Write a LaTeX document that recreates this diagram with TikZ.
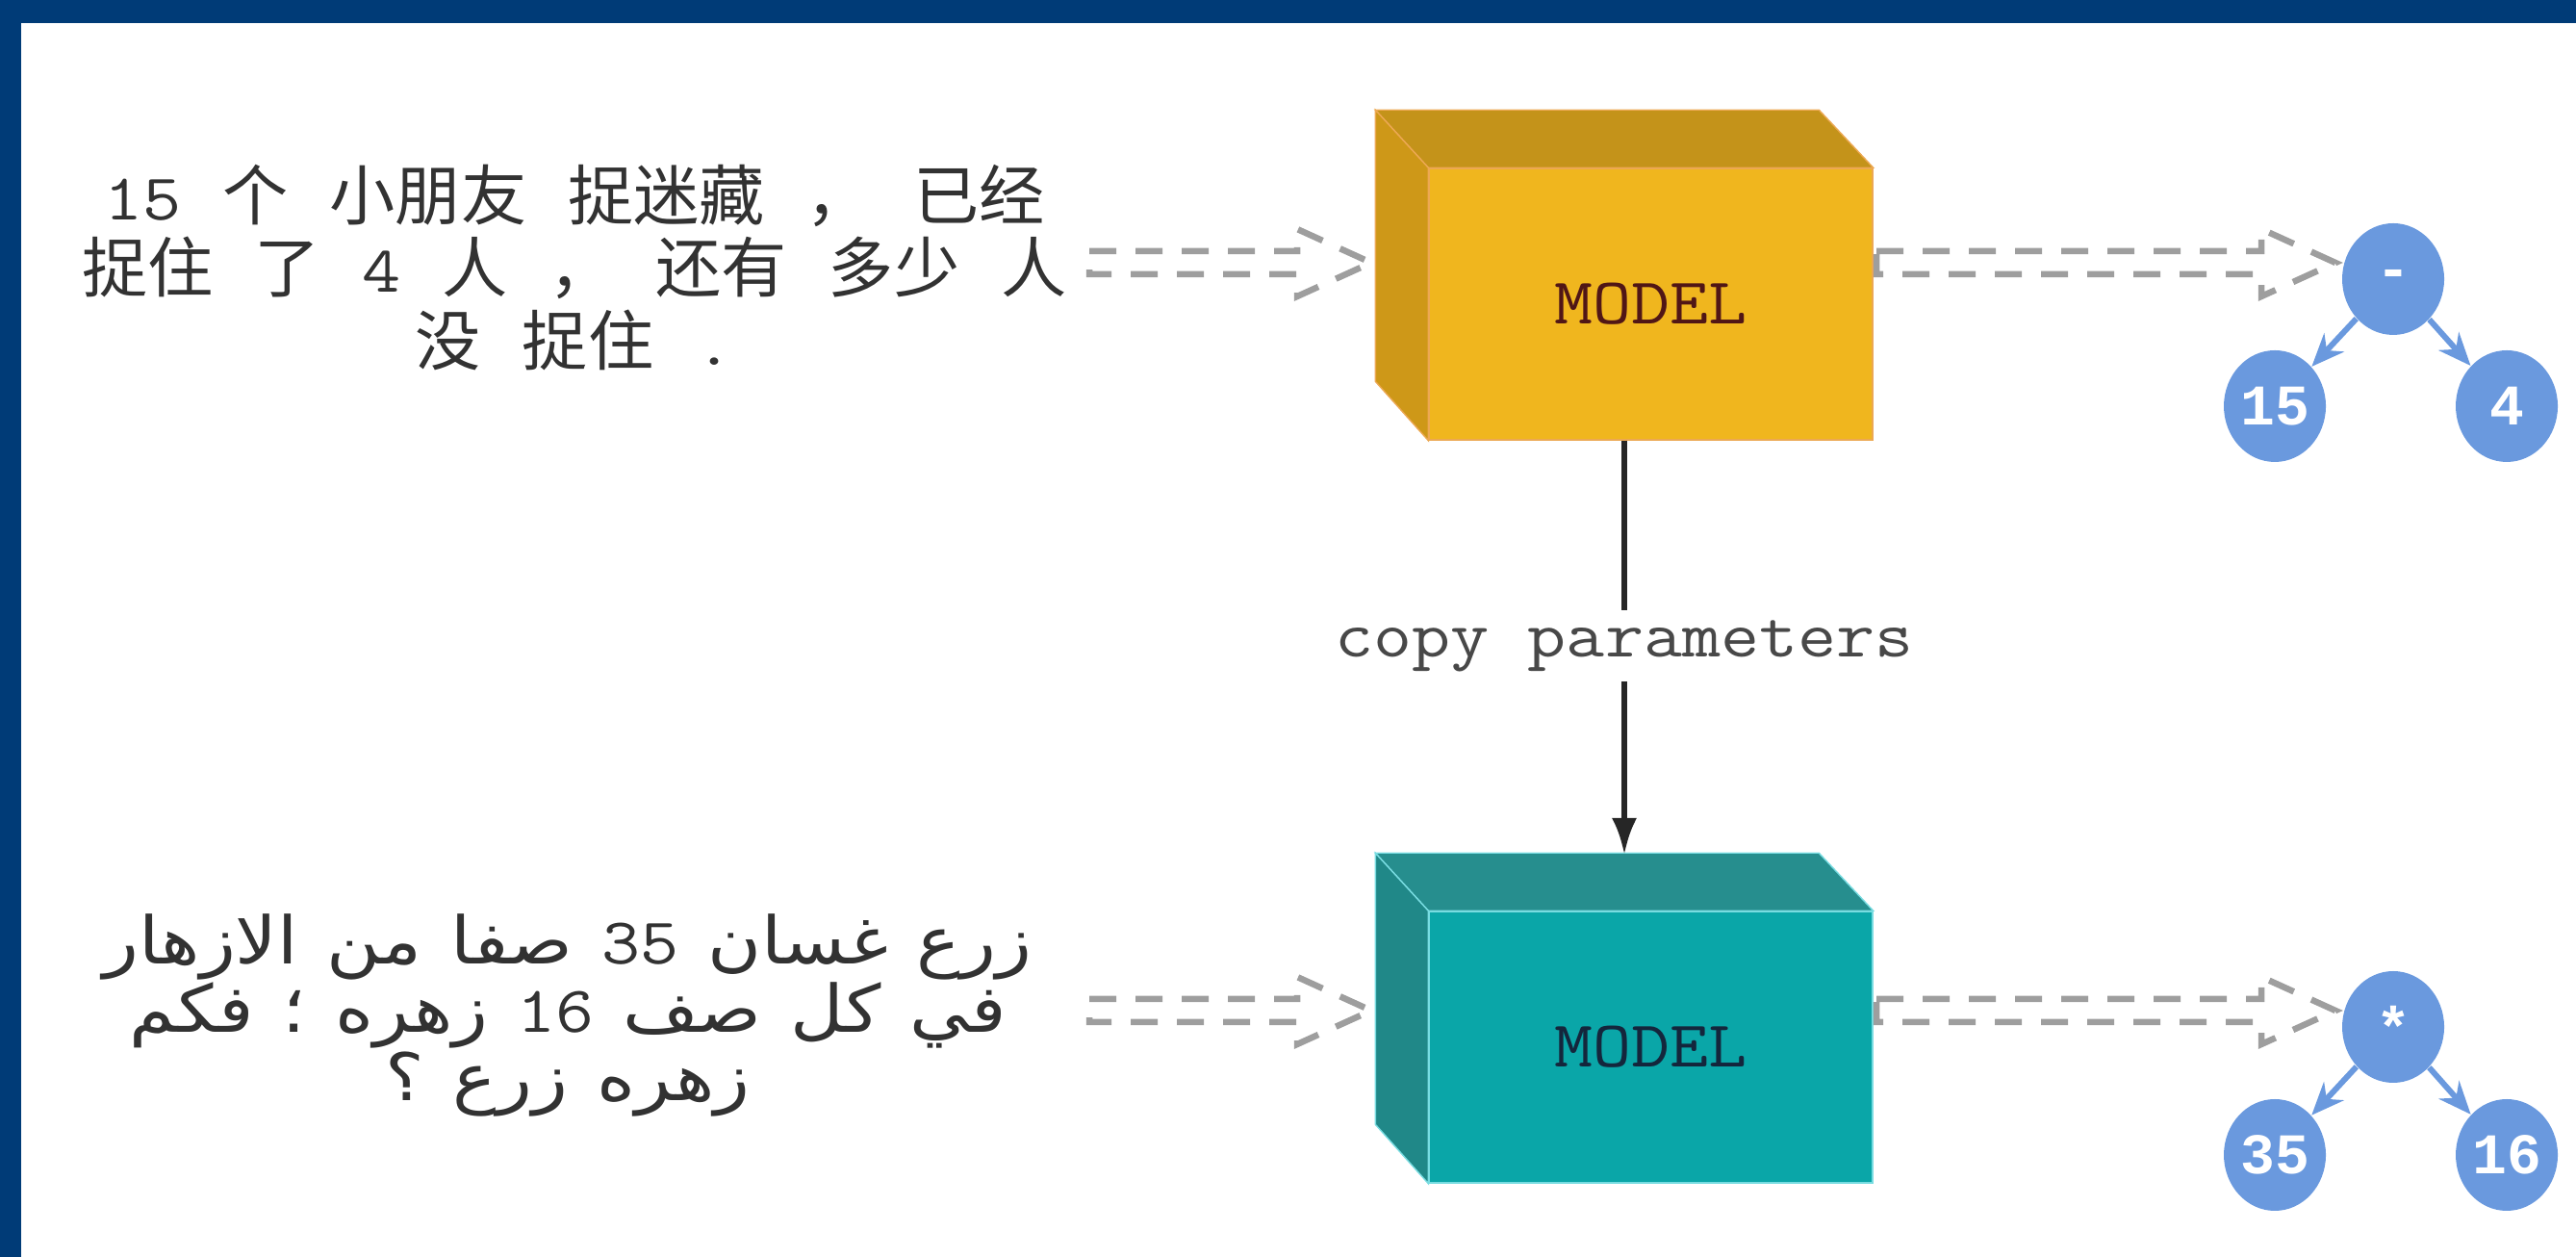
\documentclass[tikz,border=0pt]{standalone}
\usepackage{fontspec}
\usepackage{tikz}
\usetikzlibrary{arrows.meta, positioning, shapes.geometric}
\setmonofont{Latin Modern Mono}[FakeStretch=1.14]
\newfontfamily\cjk{Noto Sans CJK SC}
\newfontfamily\arabicfont[Script=Arabic,FakeStretch=1.12]{DejaVu Sans}
\newfontfamily\leafmono{Liberation Mono}
\TeXXeTstate=1
\newcommand{\zhfont}{\cjk\fontsize{19.4}{21.5}\selectfont\spaceskip=0.43cm\relax}
\newcommand{\arfont}{\arabicfont\fontsize{19.4}{20.2}\selectfont\spaceskip=0.3cm\relax}

\definecolor{frameblue}{RGB}{0,59,119}
\definecolor{yfront}{RGB}{240,182,30}
\definecolor{ytop}{RGB}{196,147,26}
\definecolor{yside}{RGB}{206,152,24}
\definecolor{yedge}{RGB}{236,168,82}
\definecolor{ytext}{RGB}{80,22,22}
\definecolor{tfront}{RGB}{10,166,168}
\definecolor{ttop}{RGB}{38,142,142}
\definecolor{tside}{RGB}{32,136,136}
\definecolor{tedge}{RGB}{120,220,225}
\definecolor{ttext}{RGB}{20,38,60}
\definecolor{flowgray}{RGB}{158,158,158}
\definecolor{leafblue}{RGB}{106,153,222}
\definecolor{textgray}{RGB}{50,50,50}
\definecolor{labelgray}{RGB}{72,72,72}

% dashed hollow arrow: start coordinate, shaft length
\newcommand{\hollowarrow}[2]{%
  \draw[flow] (#1) ++(0,0.12) -- ++(#2,0) -- ++(0,0.23) -- ++(0.77,-0.35)
    -- ++(-0.77,-0.35) -- ++(0,0.23) -- ++(-#2,0) -- cycle;}

\begin{document}
\begin{tikzpicture}[
    modelbox/.style={rectangle, minimum width=4.61cm, minimum height=2.82cm, inner sep=0pt,
      font=\ttfamily\fontsize{19.4}{23}\selectfont},
    flow/.style={draw=flowgray, line width=0.065cm, dash pattern=on 0.28cm off 0.2cm},
    leaf/.style={ellipse, fill=leafblue, text=white, minimum width=1.06cm, minimum height=1.16cm,
      inner sep=0pt, font=\leafmono\bfseries\fontsize{17}{17}\selectfont},
    treeedge/.style={draw=leafblue, line width=0.06cm, -{Stealth[length=0.34cm,width=0.28cm]}},
  ]
    \useasboundingbox (0,0) rectangle (26.77,13.06);

    % Frame
    \fill[frameblue] (0,12.82) rectangle (26.77,13.06);
    \fill[frameblue] (0,0) rectangle (0.22,13.06);

    % Chinese question
    \node[font=\zhfont, text=textgray, align=center] (zhq) at (5.97,10.28)
      {{\ttfamily 15} 个 小朋友 捉迷藏 ， 已经\\ 捉住 了 {\ttfamily 4} 人 ， 还有 多少 人\\ 没 捉住 {\ttfamily .}};

    % Arabic question
    \node[font=\arfont, text=textgray, align=center] (arq) at (5.90,2.51)
      {\beginR زرع غسان \beginL{\ttfamily 35}\endL{} صفا من الازهار\endR\\
       \beginR في كل صف \beginL{\ttfamily 16}\endL{} زهره ؛ فكم\endR\\
       \beginR زهره زرع ؟\endR};

    % Upper model
    \node[modelbox, fill=yfront, draw=yedge, text=ytext] (model1) at (17.155,9.90) {MODEL};
    \filldraw[fill=ytop, draw=yedge] (model1.north west) -- ++(-0.55,0.60) -- ++(4.61,0) -- (model1.north east) -- cycle;
    \filldraw[fill=yside, draw=yedge] (model1.north west) -- ++(-0.55,0.60) -- ++(0,-2.82) -- (model1.south west) -- cycle;

    % Lower model
    \node[modelbox, fill=tfront, draw=tedge, text=ttext] (model2) at (17.155,2.18) {MODEL};
    \filldraw[fill=ttop, draw=tedge] (model2.north west) -- ++(-0.55,0.60) -- ++(4.61,0) -- (model2.north east) -- cycle;
    \filldraw[fill=tside, draw=tedge] (model2.north west) -- ++(-0.55,0.60) -- ++(0,-2.82) -- (model2.south west) -- cycle;

    % Input and output arrows
    \coordinate (in1) at (11.32,10.33);
    \coordinate (out1) at (19.50,10.33);
    \coordinate (in2) at (11.32,2.56);
    \coordinate (out2) at (19.50,2.56);
    \hollowarrow{in1}{2.16}
    \hollowarrow{out1}{4.00}
    \hollowarrow{in2}{2.16}
    \hollowarrow{out2}{4.00}

    % Expression trees
    \node[leaf] (minus) at (24.87,10.16) {-};
    \node[leaf] (n15) at (23.64,8.84) {15};
    \node[leaf] (n4) at (26.05,8.84) {4};
    \draw[treeedge] (minus) -- (n15);
    \draw[treeedge] (minus) -- (n4);

    \node[leaf] (times) at (24.87,2.39) {*};
    \node[leaf] (n35) at (23.64,1.06) {35};
    \node[leaf] (n16) at (26.05,1.06) {16};
    \draw[treeedge] (times) -- (n35);
    \draw[treeedge] (times) -- (n16);

    % Copy parameters
    \coordinate (back2) at (16.88,4.18);
    \node[font=\ttfamily\fontsize{19.4}{23}\selectfont, text=labelgray, fill=white, inner sep=0.1cm] (cp) at (16.88,6.35) {copy parameters};
    \draw[line width=0.06cm, black!85] (model1.south -| cp) -- (cp);
    \draw[line width=0.06cm, black!85, -{Latex[length=0.38cm,width=0.26cm]}] (cp) -- (back2);
\end{tikzpicture}
\end{document}
